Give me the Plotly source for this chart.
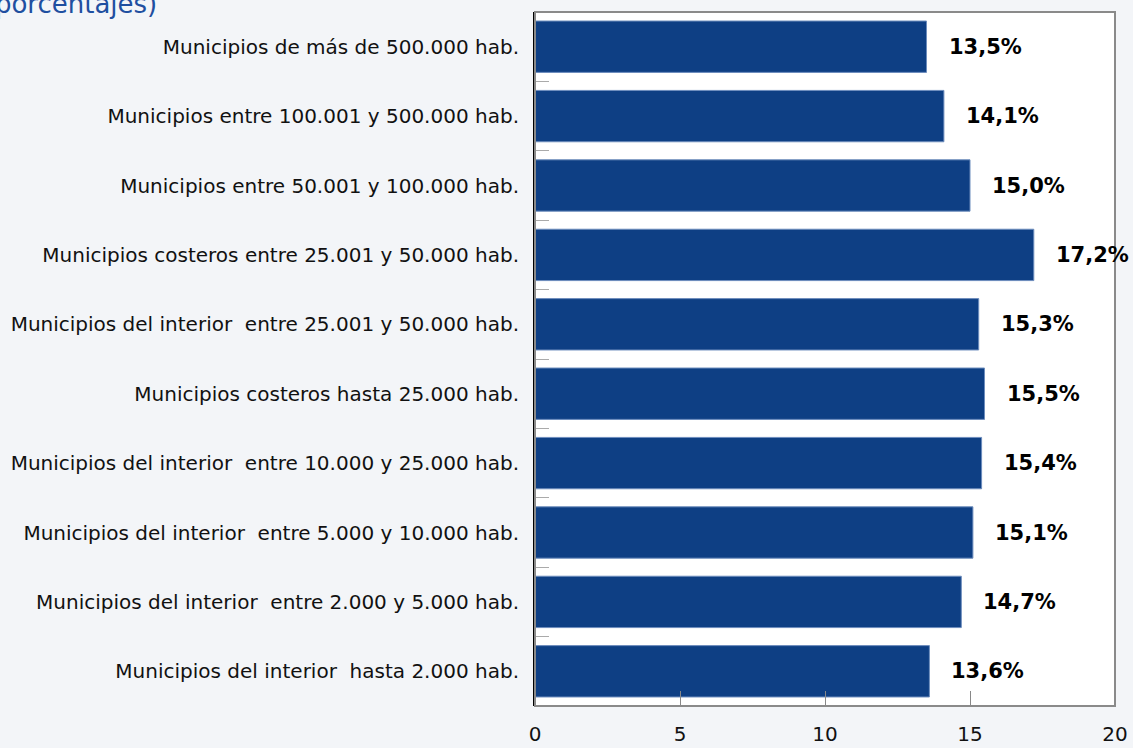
import plotly.graph_objects as go

categories = [
    "Municipios de más de 500.000 hab.",
    "Municipios entre 100.001 y 500.000 hab.",
    "Municipios entre 50.001 y 100.000 hab.",
    "Municipios costeros entre 25.001 y 50.000 hab.",
    "Municipios del interior  entre 25.001 y 50.000 hab.",
    "Municipios costeros hasta 25.000 hab.",
    "Municipios del interior  entre 10.000 y 25.000 hab.",
    "Municipios del interior  entre 5.000 y 10.000 hab.",
    "Municipios del interior  entre 2.000 y 5.000 hab.",
    "Municipios del interior  hasta 2.000 hab.",
]
values = [13.5, 14.1, 15.0, 17.2, 15.3, 15.5, 15.4, 15.1, 14.7, 13.6]
x_ticks = [0, 5, 10, 15, 20]
title_text = "(en porcentajes)"

labels = [f"{v:.1f}%".replace(".", ",") for v in values]

fig = go.Figure()
fig.add_trace(go.Bar(
    x=values, y=categories, orientation="h",
    marker=dict(color="#0e3f84", line=dict(color="#6d8dbd", width=1)),
    hoverinfo="skip",
))

for v, c, t in zip(values, categories, labels):
    fig.add_annotation(x=v, y=c, text=t, xref="x", yref="y", showarrow=False,
                       xanchor="left", xshift=20,
                       font=dict(family="DejaVu Sans", size=21, color="black", weight="bold"))

fig.add_annotation(x=-0.6475, y=1.012, xref="paper", yref="paper", text=title_text,
                   showarrow=False, xanchor="right", yanchor="middle",
                   font=dict(family="DejaVu Sans", size=26, color="#1f4fa0"))

fig.add_shape(type="rect", xref="paper", yref="paper", x0=0, y0=0, x1=1, y1=1,
              line=dict(color="#8a8a8a", width=2), layer="above")

fig.update_layout(
    width=1133, height=748,
    margin=dict(l=535, r=18, t=12, b=42, autoexpand=False),
    paper_bgcolor="#f3f5f8", plot_bgcolor="white",
    bargap=0.26, showlegend=False,
    font=dict(family="DejaVu Sans", size=20, color="#111111"),
)
fig.update_xaxes(range=[0, 20], tickvals=x_ticks, showgrid=False, zeroline=False,
                 ticks="inside", ticklen=15, tickcolor="#888888", tickwidth=1,
                 tickfont=dict(size=20), showline=False, ticklabelstandoff=14,
                 automargin=False)
fig.update_yaxes(autorange="reversed", showgrid=False, ticks="inside", tickson="boundaries",
                 ticklen=14, tickcolor="#aaaaaa", showline=True, linecolor="black", linewidth=2,
                 ticklabelstandoff=10, tickfont=dict(size=20), automargin=False)

fig.write_html("out.html")
